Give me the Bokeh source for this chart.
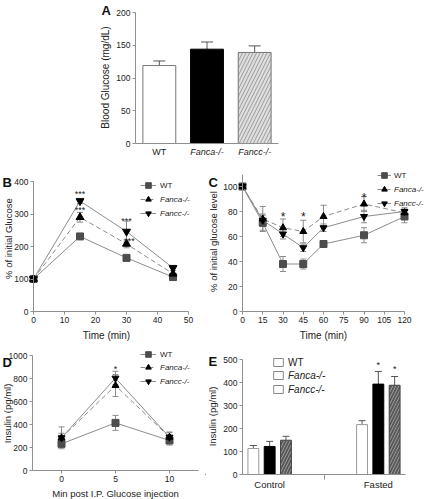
import math
from bokeh.plotting import figure
from bokeh.layouts import column, row
from bokeh.models import (ColumnDataSource, Whisker, TeeHead, Legend, LegendItem,
                          Label, FixedTicker, Range1d)
from bokeh.embed import file_html
from bokeh.resources import INLINE

FONT = "Liberation Sans"

# ---------------- data ----------------
a_groups = ["WT", "Fanca-/-", "Fancc-/-"]
a_glucose = [119, 144, 139]
a_err = [7, 11, 10]
a_tick_y = [0, 50, 100, 150, 200]

b_time = [0, 15, 30, 45]
b_wt = [100, 231, 165, 106]
b_wt_err = [3, 6, 5, 10]
b_fanca = [100, 290, 208, 116]
b_fanca_err = [3, 15, 12, 10]
b_fancc = [100, 340, 246, 134]
b_fancc_err = [3, 8, 32, 8]
b_tick_x = [0, 10, 20, 30, 40, 50]
b_tick_y = [0, 100, 200, 300, 400]

c_time = [0, 15, 30, 45, 60, 90, 120]
c_wt = [100, 71, 38, 38, 54, 61, 76]
c_wt_err = [2, 6, 6, 4, 2, 6, 5]
c_fanca = [100, 74, 67, 64, 76, 86, 79]
c_fanca_err = [2, 10, 7, 9, 9, 6, 3]
c_fancc = [100, 73, 62, 51, 67, 76, 80]
c_fancc_err = [2, 5, 4, 3, 3, 5, 3]
c_tick_x = [0, 15, 30, 45, 60, 75, 90, 105, 120]
c_tick_y = [0, 20, 40, 60, 80, 100]

d_time = [0, 5, 10]
d_wt = [232, 414, 261]
d_wt_err = [30, 65, 40]
d_fanca = [284, 739, 290]
d_fanca_err = [95, 95, 40]
d_fancc = [284, 803, 290]
d_fancc_err = [40, 60, 45]
d_tick_x = [0, 5, 10]
d_tick_y = [0, 200, 400, 600, 800, 1000]

e_groups = ["Control", "Fasted"]
e_wt = [113, 217]
e_wt_err = [13, 17]
e_fanca = [122, 393]
e_fanca_err = [22, 55]
e_fancc = [149, 388]
e_fancc_err = [17, 38]
e_tick_y = [0, 100, 200, 300, 400, 500]

series_names = ["WT", "Fanca-/-", "Fancc-/-"]

AXIS = "#8f8f8f"
TXT = "#222222"
LINE = "#8c8c8c"


class Panel:
    """A figure whose frame fills the whole canvas; axes are fixed inside it."""

    def __init__(self, left, top, w, h, xmap, ymap, xb, yb, xloc, yloc):
        self.left, self.top, self.w, self.h = left, top, w, h
        (xd0, xp0, xd1, xp1), (yd0, yp0, yd1, yp1) = xmap, ymap
        self.kx = (xp1 - xp0) / (xd1 - xd0)
        self.ky = (yp1 - yp0) / (yd1 - yd0)
        self.xd0, self.xp0, self.yd0, self.yp0 = xd0, xp0, yd0, yp0
        xr = (self.x(left), self.x(left + w))
        yr = (self.y(top + h), self.y(top))
        p = figure(width=w, height=h, x_range=Range1d(*xr), y_range=Range1d(*yr),
                   output_backend="svg", toolbar_location=None, min_border=0)
        p.outline_line_color = None
        p.xgrid.visible = False
        p.ygrid.visible = False
        p.background_fill_color = "white"
        p.border_fill_color = "white"
        for ax in (p.xaxis, p.yaxis):
            ax.axis_line_color = AXIS
            ax.major_tick_line_color = AXIS
            ax.minor_tick_line_color = None
            ax.major_tick_in = 0
            ax.major_tick_out = 3
            ax.major_label_text_font = FONT
            ax.major_label_text_font_size = "8.5px"
            ax.major_label_text_color = TXT
            ax.major_label_standoff = 2
        p.xaxis.bounds = xb
        p.yaxis.bounds = yb
        p.xaxis.fixed_location = xloc
        p.yaxis.fixed_location = yloc
        self.p = p

    def x(self, px):
        return self.xd0 + (px - self.xp0) / self.kx

    def y(self, py):
        return self.yd0 + (py - self.yp0) / self.ky

    def text(self, x, y, s, size="9px", style="normal", align="center", baseline="middle",
             color=TXT, angle=0):
        self.p.add_layout(Label(x=x, y=y, text=s, text_font=FONT, text_font_size=size,
                                text_font_style=style, text_align=align, angle=angle,
                                text_baseline=baseline, text_color=color))

    def ptext(self, px, py, s, **kw):
        self.text(self.x(px), self.y(py), s, **kw)

    def ylabel(self, px, py, s, size="9.5px"):
        self.ptext(px, py, s, size=size, angle=math.pi / 2)

    def letter(self, px, py, s):
        self.ptext(px, py, s, size="13px", style="bold", align="left", baseline="top",
                   color="#111")

    def loc(self, px, py_bottom):
        return (px - self.left, self.top + self.h - py_bottom)


def line_series(p, xs, ys, errs, marker, mcolor, dash, msize):
    src = ColumnDataSource(dict(x=xs, y=ys, lo=[a - e for a, e in zip(ys, errs)],
                                hi=[a + e for a, e in zip(ys, errs)]))
    w = Whisker(source=src, base="x", lower="lo", upper="hi", line_color=LINE, line_width=1,
                upper_head=TeeHead(size=6, line_color=LINE, line_width=1),
                lower_head=TeeHead(size=6, line_color=LINE, line_width=1), level="underlay")
    p.add_layout(w)
    lr = p.line("x", "y", source=src, line_color=LINE, line_width=1, line_dash=dash)
    sr = p.scatter("x", "y", source=src, marker=marker, size=msize, fill_color=mcolor,
                   line_color=mcolor)
    return [lr, sr]


def legends(pn, items, px, py_wt_bottom, py_rest_bottom, fsize="8px", gw=16, gh=14, lh=14,
            standoff=4):
    common = dict(background_fill_alpha=0, border_line_color=None, padding=0, spacing=0,
                  margin=0, label_height=lh, glyph_height=gh, glyph_width=gw,
                  label_standoff=standoff, label_text_font=FONT, label_text_font_size=fsize,
                  label_text_color=TXT)
    l1 = Legend(items=[LegendItem(label=series_names[0], renderers=items[0])],
                location=pn.loc(px, py_wt_bottom), label_text_font_style="normal", **common)
    l2 = Legend(items=[LegendItem(label=series_names[1], renderers=items[1]),
                       LegendItem(label=series_names[2], renderers=items[2])],
                location=pn.loc(px, py_rest_bottom), label_text_font_style="italic", **common)
    pn.p.add_layout(l1)
    pn.p.add_layout(l2)


# ---------------- Panel A ----------------
A = Panel(0, 0, 430, 160, (0, 135, 3, 278), (0, 143, 200, 12), (0, 3), (0, 200), 0, 0)
pA = A.p
pA.xaxis.ticker = FixedTicker(ticks=[])
pA.yaxis.ticker = FixedTicker(ticks=a_tick_y)
a_x = [0.5, 1.5, 2.5]
srcA = ColumnDataSource(dict(x=a_x, top=a_glucose, hi=[v + e for v, e in zip(a_glucose, a_err)]))
pA.add_layout(Whisker(source=srcA, base="x", lower="top", upper="hi", line_color="#555",
                      upper_head=TeeHead(size=12, line_color="#555"), lower_head=None,
                      level="underlay"))
pA.vbar(x=[a_x[0]], top=[a_glucose[0]], width=0.69, fill_color="white", line_color="#777")
pA.vbar(x=[a_x[1]], top=[a_glucose[1]], width=0.69, fill_color="black", line_color="black")
pA.vbar(x=[a_x[2]], top=[a_glucose[2]], width=0.69, fill_color="#dedede", line_color="#777",
        hatch_pattern="/", hatch_color="#8a8a8a", hatch_scale=7, hatch_weight=0.8)
for xv, g in zip(a_x, a_groups):
    A.text(xv, A.y(151), g, size="9px", style="normal" if g == "WT" else "italic")
A.ylabel(105, 77, "Blood Glucose (mg/dL)", size="10px")
A.letter(101, 2, "A")

# ---------------- Panel B ----------------
B = Panel(0, 160, 205, 182, (0, 33, 50, 188), (0, 311, 400, 181), (0, 50), (0, 400), 0, 0)
pB = B.p
pB.xaxis.ticker = FixedTicker(ticks=b_tick_x)
pB.yaxis.ticker = FixedTicker(ticks=b_tick_y)
rB = [line_series(pB, b_time, b_wt, b_wt_err, "square", "#4d4d4d", "solid", 7),
      line_series(pB, b_time, b_fanca, b_fanca_err, "triangle", "black", "5 3", 8),
      line_series(pB, b_time, b_fancc, b_fancc_err, "inverted_triangle", "black", "solid", 8)]
legends(B, rB, 140, 192, 220)
for (xv, yv) in [(15, 362), (15, 311), (30, 280), (31, 216)]:
    B.text(xv, yv, "***", size="9px")
B.ylabel(8, 238, "% of initial Glucose")
B.ptext(106, 335, "Time (min)", size="10px")
B.letter(2, 174, "B")

# ---------------- Panel C ----------------
C = Panel(205, 160, 225, 182, (0, 242, 120, 404), (0, 311, 100, 186), (0, 120), (0, 110), 0, 0)
pC = C.p
pC.xaxis.ticker = FixedTicker(ticks=c_tick_x)
pC.yaxis.ticker = FixedTicker(ticks=c_tick_y)
rC = [line_series(pC, c_time, c_wt, c_wt_err, "square", "#4d4d4d", "solid", 7),
      line_series(pC, c_time, c_fanca, c_fanca_err, "triangle", "black", "5 3", 7),
      line_series(pC, c_time, c_fancc, c_fancc_err, "inverted_triangle", "black", "solid", 7)]
legends(C, rC, 377, 182, 210, gw=14, standoff=3)
for (xv, yv) in [(30, 76), (45, 76), (90, 91)]:
    C.text(xv, yv, "*", size="12px")
C.ylabel(213, 241, "% of initial glucose level")
C.ptext(323, 335, "Time (min)", size="10px")
C.letter(208, 174, "C")

# ---------------- Panel D ----------------
D = Panel(0, 342, 205, 157, (0, 61, 10, 169), (0, 470, 1000, 355), (-2.69, 12.7), (0, 1000),
          0, -2.69)
pD = D.p
pD.xaxis.ticker = FixedTicker(ticks=d_tick_x)
pD.yaxis.ticker = FixedTicker(ticks=d_tick_y)
rD = [line_series(pD, d_time, d_wt, d_wt_err, "square", "#4d4d4d", "solid", 7),
      line_series(pD, d_time, d_fanca, d_fanca_err, "triangle", "black", "5 3", 7),
      line_series(pD, d_time, d_fancc, d_fancc_err, "inverted_triangle", "black", "solid", 7)]
legends(D, rD, 140, 361, 388)
D.text(5, 885, "*", size="9px")
D.ylabel(7, 413, "Insulin (pg/ml)")
D.ptext(115, 493, "Min post I.P. Glucose injection", size="9.5px")
D.letter(2, 354, "D")

# ---------------- Panel E ----------------
E = Panel(205, 342, 225, 157, (0, 242, 3, 405), (0, 474, 500, 359), (0, 3), (0, 500), 0, 0)
pE = E.p
pE.xaxis.ticker = FixedTicker(ticks=[1.5])
pE.xaxis.major_label_overrides = {1.5: ""}
pE.xaxis.major_tick_out = 5
pE.yaxis.ticker = FixedTicker(ticks=e_tick_y)
centers = [0.5, 2.5]
specs = [(e_wt, e_wt_err, -0.3, dict(fill_color="white", line_color="#999")),
         (e_fanca, e_fanca_err, 0.0, dict(fill_color="black", line_color="black")),
         (e_fancc, e_fancc_err, 0.3, dict(fill_color="#595959", line_color="#444",
                                          hatch_pattern="/", hatch_color="#aaaaaa",
                                          hatch_scale=6, hatch_weight=0.8))]
for vals, errs, off, sty in specs:
    xs = [c + off for c in centers]
    src = ColumnDataSource(dict(x=xs, top=vals, hi=[v + e for v, e in zip(vals, errs)]))
    pE.add_layout(Whisker(source=src, base="x", lower="top", upper="hi", line_color="#555",
                          upper_head=TeeHead(size=7, line_color="#555"), lower_head=None,
                          level="underlay"))
    pE.vbar(x="x", top="top", width=0.2, source=src, **sty)
dummies = [[pE.vbar(x=[-50], top=[1], width=0.2, fill_color="white", line_color="#888")]
           for _ in range(3)]
legends(E, dummies, 272, 369, 396, fsize="10px", gw=12, gh=10, lh=14)
for c, g in zip(centers, e_groups):
    E.text(c, E.y(484), g, size="9.5px")
E.text(2.5, 478, "*", size="9px")
E.text(2.8, 458, "*", size="9px")
E.ylabel(212, 416, "Insulin (pg/ml)")
E.letter(208, 353, "E")

layout = column(pA, row(pB, pC), row(pD, pE))
open("out.html", "w").write(file_html(layout, INLINE))
